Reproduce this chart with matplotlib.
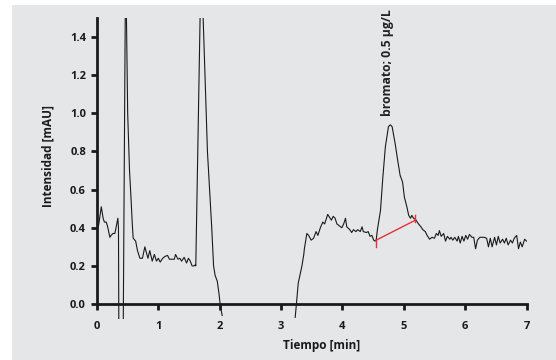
import numpy as np
import matplotlib
matplotlib.use("Agg")
import matplotlib.pyplot as plt
from matplotlib.patches import Rectangle

# ---- data ----
seg1_t = [0.00, 0.03, 0.07, 0.10, 0.12, 0.15, 0.17, 0.21, 0.23, 0.26, 0.29, 0.31, 0.34, 0.35, 0.36]
seg1_v = [0.38, 0.42, 0.51, 0.45, 0.43, 0.43, 0.41, 0.35, 0.36, 0.37, 0.37, 0.40, 0.45, 0.40, -0.50]

seg2_t = [0.42, 0.46, 0.47, 0.48, 0.50, 0.53, 0.555, 0.575, 0.59, 0.63, 0.66, 0.70, 0.74, 0.78, 0.83,
          0.86, 0.90, 0.935, 0.97, 1.00, 1.03, 1.07, 1.11, 1.15, 1.18, 1.22, 1.26, 1.28, 1.32, 1.35,
          1.38, 1.42, 1.46, 1.49, 1.52, 1.55, 1.58, 1.60, 1.61, 1.68, 1.70, 1.73, 1.76, 1.80, 1.87,
          1.90, 1.925, 1.96, 1.99, 2.01, 2.04]
seg2_v = [-0.50, 1.50, 2.50, 1.50, 1.00, 0.70, 0.55, 0.42, 0.345, 0.33, 0.28, 0.24, 0.24, 0.30, 0.24,
          0.28, 0.225, 0.26, 0.225, 0.24, 0.22, 0.24, 0.25, 0.255, 0.235, 0.235, 0.235, 0.26, 0.235, 0.24,
          0.225, 0.245, 0.215, 0.24, 0.225, 0.20, 0.20, 0.205, 0.20, 1.50, 2.50, 1.50, 1.20, 0.80, 0.40,
          0.20, 0.15, 0.12, 0.05, -0.01, -0.06]

seg3_t = [3.23, 3.25, 3.28, 3.32, 3.34, 3.37, 3.38, 3.42, 3.45, 3.49, 3.53, 3.57, 3.60, 3.64, 3.68,
          3.71, 3.76, 3.79, 3.82, 3.85, 3.88, 3.91, 3.95, 3.99, 4.02, 4.05, 4.07, 4.12, 4.15, 4.18,
          4.22, 4.25, 4.29, 4.32, 4.34, 4.39, 4.42, 4.45, 4.48, 4.51, 4.53, 4.55, 4.57, 4.62, 4.66,
          4.70, 4.75, 4.78, 4.81, 4.86, 4.90, 4.94, 4.98, 5.01, 5.05, 5.08, 5.11, 5.13, 5.16, 5.20,
          5.24, 5.28, 5.31, 5.35, 5.38, 5.42, 5.46, 5.50, 5.53, 5.56, 5.58, 5.61, 5.65, 5.68, 5.71,
          5.75, 5.77, 5.80, 5.83, 5.87, 5.89, 5.92, 5.95, 5.98, 6.01, 6.04, 6.07, 6.11, 6.14, 6.17,
          6.20, 6.24, 6.27, 6.31, 6.35, 6.38, 6.41, 6.44, 6.48, 6.51, 6.54, 6.57, 6.61, 6.64, 6.67,
          6.70, 6.74, 6.77, 6.80, 6.84, 6.87, 6.90, 6.93, 6.97, 7.00]
seg3_v = [-0.07, 0.00, 0.11, 0.17, 0.20, 0.26, 0.29, 0.37, 0.36, 0.335, 0.345, 0.38, 0.36, 0.40, 0.43,
          0.42, 0.47, 0.455, 0.44, 0.46, 0.45, 0.42, 0.41, 0.40, 0.42, 0.45, 0.405, 0.39, 0.375, 0.39,
          0.38, 0.39, 0.38, 0.405, 0.38, 0.375, 0.38, 0.355, 0.36, 0.335, 0.33, 0.335, 0.39, 0.49, 0.67,
          0.825, 0.93, 0.94, 0.93, 0.84, 0.755, 0.675, 0.64, 0.56, 0.51, 0.465, 0.45, 0.465, 0.45, 0.44,
          0.42, 0.405, 0.39, 0.38, 0.36, 0.34, 0.35, 0.345, 0.37, 0.36, 0.385, 0.355, 0.37, 0.33, 0.355,
          0.34, 0.35, 0.335, 0.35, 0.33, 0.355, 0.32, 0.355, 0.33, 0.36, 0.34, 0.365, 0.35, 0.35, 0.29,
          0.335, 0.35, 0.35, 0.35, 0.345, 0.30, 0.345, 0.30, 0.35, 0.31, 0.355, 0.32, 0.34, 0.32, 0.345,
          0.31, 0.335, 0.32, 0.345, 0.36, 0.29, 0.325, 0.30, 0.34, 0.33]

baseline_t = [4.55, 5.19]
baseline_v = [0.335, 0.44]

peak_label = "bromato; 0.5 µg/L"
peak_label_t = 4.73
peak_label_v = 0.985

x_ticks = [0, 1, 2, 3, 4, 5, 6, 7]
y_ticks = [0.0, 0.2, 0.4, 0.6, 0.8, 1.0, 1.2, 1.4]

# ---- figure ----
plt.rcParams['font.family'] = ['Open Sans', 'DejaVu Sans']
W, H = 556, 360
fig = plt.figure(figsize=(W / 100, H / 100), dpi=100, facecolor='white')
fig.patches.append(Rectangle((12 / W, 0), 1 - 12 / W, 355 / H, transform=fig.transFigure,
                             facecolor='#e5e6e7', edgecolor='none', zorder=-10))

ax = fig.add_axes([97 / W, (H - 319.3) / H, 429.5 / W, 301.3 / H])
ax.set_facecolor('none')

# seg1 and seg2 both run below the axis where they meet, so they can be one line
ax.plot(seg1_t + seg2_t, seg1_v + seg2_v, color='#1a1a1a', lw=0.8)
ax.plot(seg3_t, seg3_v, color='#1a1a1a', lw=0.8)

red = '#e8303a'
ax.plot(baseline_t, baseline_v, color=red, lw=1.0)
ax.plot([baseline_t[0], baseline_t[0]], [baseline_v[0], baseline_v[0] - 0.035], color=red, lw=1.0)
ax.plot([baseline_t[1], baseline_t[1]], [baseline_v[1] - 0.01, baseline_v[1] + 0.025], color=red, lw=1.0)

ax.text(peak_label_t, peak_label_v, peak_label, rotation=90, ha='center', va='bottom',
        fontsize=8.7, fontweight='bold', color='#222222')

ax.set_xlim(0, 7)
ax.set_ylim(-0.08, 1.5)
ax.spines['top'].set_visible(False)
ax.spines['right'].set_visible(False)
ax.spines['bottom'].set_position(('data', 0))
ax.spines['left'].set_bounds(0, 1.5)
for s in ('bottom', 'left'):
    ax.spines[s].set_linewidth(2.0)
    ax.spines[s].set_color('#1a1a1a')

ax.set_xticks(x_ticks)
ax.set_xticklabels([str(x) for x in x_ticks])
ax.set_yticks(y_ticks)
ax.set_yticklabels([f"{y:.1f}" for y in y_ticks])
ax.tick_params(axis='x', direction='out', length=4, width=2, pad=8, labelsize=8,
               colors='#1a1a1a')
ax.tick_params(axis='y', direction='out', length=4, width=2, pad=4, labelsize=8,
               colors='#1a1a1a')
for lab in ax.get_xticklabels() + ax.get_yticklabels():
    lab.set_fontweight('bold')

ax.set_xlabel('Tiempo [min]', fontsize=8.5, fontweight='bold', color='#1a1a1a')
ax.set_ylabel('Intensidad [mAU]', fontsize=8.5, fontweight='bold', color='#1a1a1a')
ax.yaxis.set_label_coords(-0.1, (0.776 + 0.08) / 1.58)
ax.xaxis.set_label_coords(0.523, -0.065)
ax.xaxis.label.set_va('top')

fig.savefig('out.png', dpi=100, facecolor='white')
